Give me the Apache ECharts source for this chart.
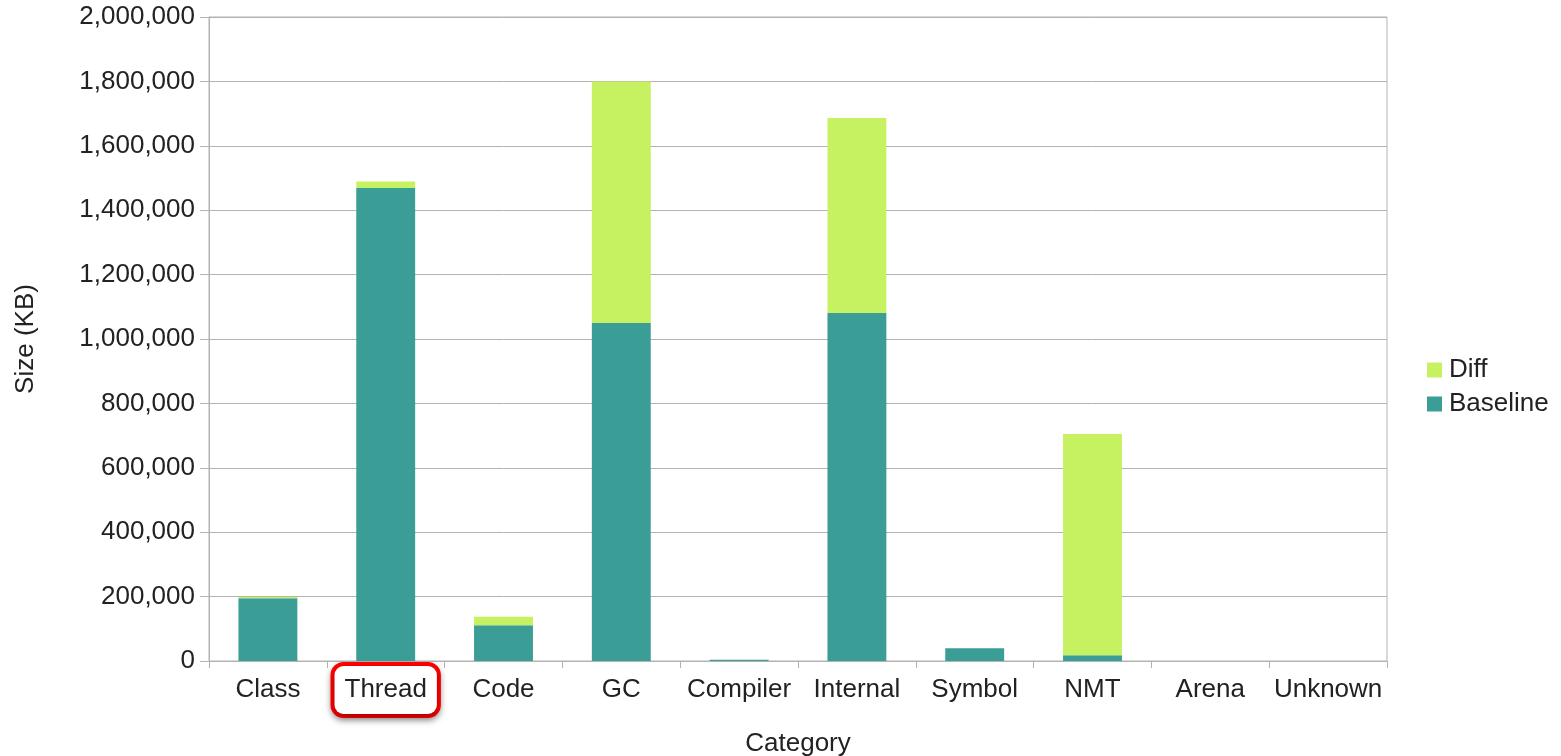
<!DOCTYPE html>
<html>
<head>
<meta charset="utf-8">
<script src="https://cdn.jsdelivr.net/npm/echarts@6/dist/echarts.min.js"></script>
<style>html,body{margin:0;padding:0;background:#fff;}#c{width:1561px;height:756px;}</style>
</head>
<body>
<div id="c"></div>
<script>
const categories = ['Class','Thread','Code','GC','Compiler','Internal','Symbol','NMT','Arena','Unknown'];
const baseline = [195000, 1469000, 111000, 1050000, 4000, 1081000, 39500, 17700, 0, 0];
const diff = [4000, 20000, 26500, 750000, 0, 605000, 0, 687000, 0, 0];
const highlighted = 'Thread';
const yMin = 0, yMax = 2000000, yStep = 200000;

const FONT = '"Liberation Sans", Arial, sans-serif';
const TXT = '#222222';
const GRID = '#b3b3b3';

const chart = echarts.init(document.getElementById('c'), null, {renderer: 'canvas'});
chart.setOption({
  animation: false,
  backgroundColor: '#ffffff',
  textStyle: {fontFamily: FONT},
  grid: {left: 209, right: 174, top: 17, bottom: 95, show: true, borderColor: GRID, borderWidth: 1,
         containLabel: false, outerBoundsMode: 'none'},
  legend: {
    orient: 'vertical', left: 1427, top: 357, padding: 0,
    itemWidth: 15, itemHeight: 15, itemGap: 8,
    icon: 'rect',
    data: ['Diff', 'Baseline'],
    textStyle: {fontSize: 26, color: TXT, fontFamily: FONT, padding: [0,0,0,2]}
  },
  xAxis: {
    type: 'category',
    data: categories,
    name: 'Category',
    nameLocation: 'middle',
    nameGap: 70,
    nameTextStyle: {fontSize: 26, color: TXT, fontFamily: FONT},
    axisLine: {lineStyle: {color: GRID}},
    axisTick: {show: true, length: 7, lineStyle: {color: GRID}},
    axisLabel: {
      interval: 0, margin: 16, color: TXT, fontSize: 26, fontFamily: FONT,
      formatter: v => v === highlighted ? '{box|' + v + '}' : '{n|' + v + '}',
      rich: {
        n: {fontSize: 26, lineHeight: 26, color: TXT, fontFamily: FONT, padding: [11, 10]},
        box: {
          fontSize: 26, lineHeight: 26, color: TXT, fontFamily: FONT, padding: [11, 10],
          borderColor: '#ff0000', borderWidth: 4, borderRadius: 9,
          backgroundColor: '#ffffff',
          shadowColor: 'rgba(0,0,0,0.35)', shadowBlur: 6, shadowOffsetY: 3
        }
      }
    }
  },
  yAxis: {
    type: 'value',
    min: yMin, max: yMax, interval: yStep,
    name: 'Size (KB)',
    nameLocation: 'middle',
    nameGap: 170,
    nameTextStyle: {fontSize: 26, color: TXT, fontFamily: FONT},
    axisLine: {show: true, lineStyle: {color: GRID}},
    axisTick: {show: true, length: 9, lineStyle: {color: GRID}},
    splitLine: {lineStyle: {color: GRID}},
    axisLabel: {
      margin: 14, color: TXT, fontSize: 26, fontFamily: FONT,
      formatter: v => v.toLocaleString('en-US')
    }
  },
  series: [
    {name: 'Baseline', type: 'bar', stack: 'total', data: baseline, barWidth: '50%', itemStyle: {color: '#3b9e96'}},
    {name: 'Diff', type: 'bar', stack: 'total', data: diff, barWidth: '50%', itemStyle: {color: '#c6f262'}}
  ]
});
</script>
</body>
</html>
